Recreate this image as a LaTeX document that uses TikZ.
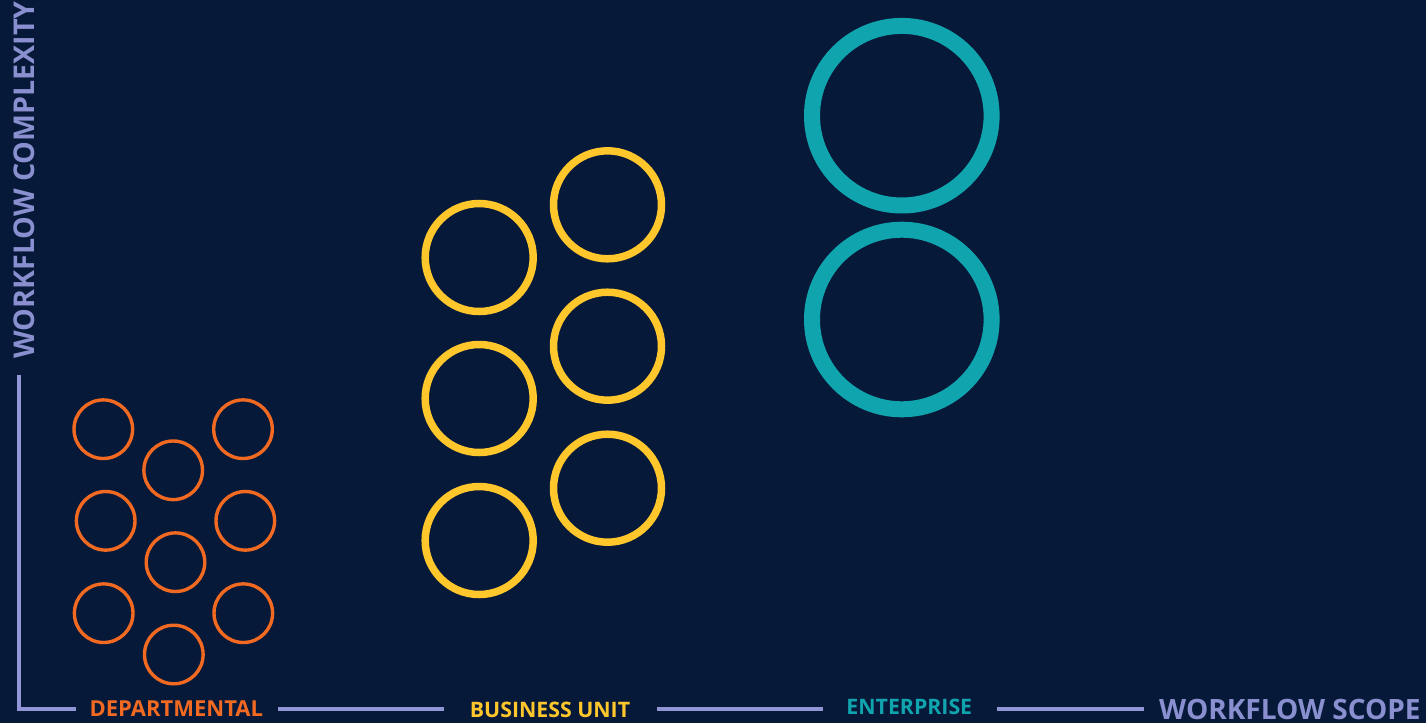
\documentclass[tikz,border=0pt]{standalone}
\usepackage{fontspec}
\setmainfont{Open Sans}[UprightFont=* Bold]
\definecolor{bg}{HTML}{061938}
\definecolor{orng}{HTML}{F26A21}
\definecolor{yell}{HTML}{FFC72C}
\definecolor{teal}{HTML}{10A5AE}
\definecolor{axis}{HTML}{9096D6}
\definecolor{axtxt}{HTML}{8A8FD0}
\tikzset{
  dept/.style={circle,draw=orng,line width=3.4pt,minimum size=58.6pt,inner sep=0pt},
  bu/.style={circle,draw=yell,line width=7.5pt,minimum size=108pt,inner sep=0pt},
  ent/.style={circle,draw=teal,line width=16pt,minimum size=179.6pt,inner sep=0pt},
  axisline/.style={draw=axis,line width=3.8pt},
  lbl/.style={font=\fontsize{21.3}{21.3}\selectfont,inner sep=0pt,anchor=base},
  axlbl/.style={inner sep=0pt,text=axtxt}
}
\begin{document}
\begin{tikzpicture}[x=1pt,y=-1pt]
\fill[bg] (0,0) rectangle (1426,723);
\useasboundingbox (0,0) rectangle (1426,723);
% departmental circles
\node[dept] (d1) at (103.3,429.2) {};
\node[dept] (d2) at (243,429.2) {};
\node[dept] (d3) at (173.2,470.3) {};
\node[dept] (d4) at (105.7,520.8) {};
\node[dept] (d5) at (245.3,520.8) {};
\node[dept] (d6) at (175.5,562.2) {};
\node[dept] (d7) at (103.7,613.2) {};
\node[dept] (d8) at (243.3,613.2) {};
\node[dept] (d9) at (173.8,654.5) {};
% business unit circles
\node[bu] (b1) at (479.2,257.5) {};
\node[bu] (b2) at (607.5,204.8) {};
\node[bu] (b3) at (479.2,398.5) {};
\node[bu] (b4) at (607.5,346.2) {};
\node[bu] (b5) at (479.2,540.5) {};
\node[bu] (b6) at (607.5,488.2) {};
% enterprise circles
\node[ent] (e1) at (901.8,115.7) {};
\node[ent] (e2) at (901.8,319.5) {};
% axes
\coordinate (top) at (19.3,375);
\coordinate (corner) at (19.3,709);
\coordinate (s1e) at (76,709);
\coordinate (s2a) at (278,709);
\coordinate (s2e) at (444,709);
\coordinate (s3a) at (656.7,709);
\coordinate (s3e) at (822.7,709);
\coordinate (s4a) at (997.3,709);
\coordinate (s4e) at (1144.3,709);
\draw[axisline] (top) -- (corner) -- (s1e);
\draw[axisline] (s2a) -- (s2e);
\draw[axisline] (s3a) -- (s3e);
\draw[axisline] (s4a) -- (s4e);
% labels
\node[lbl,text=orng,font=\fontsize{22}{22}\selectfont] (ldept) at (176.3,716) {DEPARTMENTAL};
\node[lbl,text=yell] (lbu) at (550,717) {BUSINESS UNIT};
\node[lbl,text=teal] (lent) at (909.3,714) {ENTERPRISE};
\node[axlbl,anchor=base west,font=\fontsize{28}{28}\selectfont] (lscope) at (1159,719.5) {WORKFLOW SCOPE};
\node[axlbl,rotate=90,font=\fontsize{28.6}{28.6}\selectfont] (lcomp) at (24.2,180) {WORKFLOW COMPLEXITY};
\end{tikzpicture}
\end{document}
